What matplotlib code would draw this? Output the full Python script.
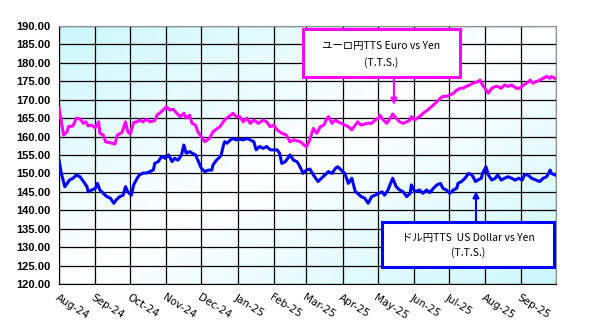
import numpy as np
import pandas as pd
import matplotlib
matplotlib.use("Agg")
import matplotlib.pyplot as plt
import matplotlib.dates as mdates
from matplotlib.patches import Rectangle

# data: days since 2024-08-01, TTS rate (yen)
start = pd.Timestamp("2024-08-01")

eur_day = [0, 2, 4, 7, 8, 12, 15, 18, 21, 23, 25, 28, 31, 34, 35, 38, 40, 44, 48, 50,
           54, 57, 59, 61, 64, 67, 69, 72, 75, 78, 82, 84, 88, 92, 95, 98, 101, 104, 107, 109,
           112, 114, 117, 119, 121, 125, 129, 132, 138, 142, 147, 149, 152, 155, 158, 161, 164, 167, 171, 175,
           178, 181, 184, 187, 191, 195, 198, 201, 207, 212, 215, 218, 221, 224, 227, 229, 231, 234, 237, 239,
           242, 245, 248, 251, 254, 256, 259, 264, 268, 271, 274, 275, 278, 281, 284, 286, 289, 292, 295, 298,
           301, 302, 305, 309, 312, 316, 321, 324, 327, 329, 332, 335, 338, 341, 344, 346, 349, 352, 355, 359,
           361, 363, 365, 368, 371, 374, 376, 379, 382, 385, 388, 392, 395, 398, 401, 404, 406, 409, 412, 415,
           418, 421, 422, 425]
eur_tts = [167.7, 164.0, 160.4, 161.3, 162.7, 162.9, 165.0, 164.8, 163.6, 164.0, 162.9, 163.1, 162.4, 164.0, 160.9, 160.4, 158.6, 158.3, 158.0, 160.4,
           161.1, 164.0, 161.3, 160.7, 163.8, 164.0, 164.5, 164.0, 164.7, 164.0, 164.3, 165.8, 166.8, 168.1, 167.2, 167.4, 166.3, 165.4, 166.3, 165.0,
           165.8, 163.6, 163.1, 161.3, 160.4, 158.6, 159.5, 161.3, 162.7, 164.5, 165.8, 166.3, 165.4, 165.4, 164.0, 165.0, 163.6, 164.5, 163.6, 164.5,
           164.0, 162.7, 163.1, 161.8, 160.9, 160.4, 158.6, 159.1, 158.6, 157.2, 159.1, 162.2, 160.9, 162.7, 163.1, 164.5, 165.4, 163.6, 164.5, 164.0,
           163.6, 163.1, 162.7, 161.8, 163.1, 164.0, 163.1, 163.6, 163.6, 164.5, 165.0, 165.8, 164.5, 163.6, 165.0, 166.1, 165.0, 164.0, 163.6, 164.0,
           164.5, 165.4, 164.5, 165.4, 166.3, 167.2, 168.6, 169.5, 170.4, 170.9, 170.9, 171.3, 171.7, 172.6, 173.1, 173.1, 173.6, 174.0, 174.5, 174.9,
           175.3, 174.0, 173.1, 171.8, 173.1, 173.6, 173.6, 173.1, 174.0, 173.6, 174.0, 173.1, 173.1, 174.0, 174.5, 175.3, 174.5, 174.9, 175.3, 175.8,
           176.3, 175.8, 176.3, 175.8]

usd_day = [0, 2, 5, 7, 9, 12, 15, 18, 21, 24, 25, 28, 31, 33, 35, 38, 41, 44, 47, 49,
           52, 55, 57, 59, 62, 64, 67, 69, 72, 75, 78, 81, 82, 85, 88, 91, 94, 97, 99, 102,
           105, 107, 109, 112, 117, 119, 122, 125, 128, 131, 132, 135, 138, 139, 141, 142, 144, 147, 149, 152,
           155, 158, 161, 164, 167, 169, 172, 175, 178, 181, 184, 187, 189, 191, 194, 197, 198, 201, 204, 205,
           208, 209, 212, 215, 218, 222, 225, 228, 231, 234, 237, 239, 242, 245, 248, 251, 254, 256, 259, 262,
           265, 268, 271, 274, 277, 279, 282, 286, 289, 292, 295, 298, 301, 302, 305, 309, 312, 315, 318, 321,
           324, 327, 329, 332, 335, 338, 341, 342, 345, 348, 351, 354, 357, 359, 362, 363, 366, 368, 371, 374,
           376, 379, 382, 385, 388, 391, 394, 397, 399, 402, 405, 409, 412, 415, 418, 421, 422, 425]
usd_tts = [153.6, 150.0, 146.4, 147.3, 148.2, 148.7, 149.6, 149.1, 147.8, 146.4, 145.0, 145.5, 145.9, 147.3, 145.5, 144.6, 143.7, 143.3, 141.9, 142.8,
           143.7, 144.1, 146.4, 145.0, 144.1, 146.9, 148.7, 149.6, 150.1, 150.1, 150.5, 151.0, 152.7, 153.2, 154.6, 154.1, 155.0, 153.2, 154.1, 153.6,
           155.0, 157.7, 155.5, 155.9, 155.0, 153.6, 151.4, 150.5, 150.9, 150.9, 152.3, 153.6, 154.5, 155.0, 157.7, 158.6, 158.2, 159.1, 159.5, 159.1,
           159.3, 159.1, 159.5, 159.1, 158.6, 156.4, 157.3, 156.8, 157.3, 156.4, 156.4, 156.4, 155.5, 152.7, 153.2, 154.5, 155.0, 153.6, 153.2, 152.7,
           150.9, 150.0, 150.9, 151.2, 149.6, 147.8, 148.7, 149.6, 150.5, 150.0, 151.4, 151.8, 150.9, 150.0, 147.3, 148.7, 145.0, 144.6, 143.7, 143.3,
           141.9, 143.7, 144.1, 144.6, 145.0, 144.1, 145.5, 148.7, 146.4, 145.5, 145.0, 143.7, 144.6, 146.9, 145.0, 145.5, 144.6, 145.5, 144.8, 146.0,
           146.9, 147.3, 146.0, 145.5, 144.6, 145.5, 146.0, 147.3, 147.8, 148.7, 150.0, 149.6, 147.8, 148.2, 148.7, 150.0, 151.8, 149.6, 148.2, 148.7,
           149.6, 148.2, 148.7, 149.1, 148.7, 148.2, 148.7, 148.2, 149.6, 149.6, 148.7, 148.2, 147.8, 148.7, 149.1, 150.9, 150.0, 149.6]

month_ticks = pd.date_range("2024-08-01", "2025-10-01", freq="MS")
month_labels = [d.strftime("%b-%y") for d in month_ticks[:-1]]

eur_dates = start + pd.to_timedelta(eur_day, unit="D")
usd_dates = start + pd.to_timedelta(usd_day, unit="D")

jp = ["Noto Sans CJK JP", "DejaVu Sans"]

fig = plt.figure(figsize=(5.97, 3.29), dpi=100)
ax = fig.add_axes([59 / 597, 45 / 329, 497 / 597, 258 / 329])

# light cyan diagonal gradient behind the plot
gx, gy = np.meshgrid(np.linspace(0, 1, 200), np.linspace(1, 0, 200))
s = np.abs(gx - gy)
c0 = np.array([1.0, 1.0, 1.0])
c1 = np.array([0.80, 0.97, 0.99])
grad = c0 + (c1 - c0) * s[..., None]
ax.imshow(grad, extent=[0, 1, 0, 1], transform=ax.transAxes, zorder=0, aspect="auto")

ax.plot(eur_dates, eur_tts, color="#ff00ff", lw=2.2, zorder=3)
ax.plot(usd_dates, usd_tts, color="#0000ff", lw=2.2, zorder=3)

ax.set_xlim(month_ticks[0], month_ticks[-1])
ax.set_ylim(120, 190)
ax.set_aspect("auto")

ax.set_yticks(np.arange(120, 190.1, 5))
ax.set_yticklabels([f"{v:.2f}" for v in np.arange(120, 190.1, 5)],
                   fontfamily=["Liberation Sans", "DejaVu Sans"],
                   fontweight="bold", fontsize=8)
ax.set_xticks(month_ticks)
ax.set_xticklabels(month_labels + [""], rotation=-32, ha="left", va="top",
                   rotation_mode="anchor", fontsize=7.5)
ax.tick_params(axis="both", length=0)
ax.tick_params(axis="y", pad=6)
ax.tick_params(axis="x", pad=6)
ax.grid(True, color="black", lw=0.9)
for side in ["top", "right"]:
    ax.spines[side].set_color("#909090")
for side in ["left", "bottom"]:
    ax.spines[side].set_color("black")

# euro label box
ax.add_patch(Rectangle((0.491, 0.802), 0.316, 0.186, transform=ax.transAxes,
                       facecolor="white", edgecolor="#ff00ff", lw=2.2, zorder=5))
ax.text(0.649, 0.922, "ユーロ円TTS Euro vs Yen", transform=ax.transAxes, ha="center",
        va="center", fontsize=7.5, family=jp, zorder=6)
ax.text(0.649, 0.860, "(T.T.S.)", transform=ax.transAxes, ha="center",
        va="center", fontsize=7.5, family=jp, zorder=6)
ax.annotate("", xy=(0.674, 0.694), xytext=(0.674, 0.802), xycoords="axes fraction",
            arrowprops=dict(arrowstyle="-|>", color="#ff00ff", lw=1.5,
                            mutation_scale=9, shrinkA=0, shrinkB=0), zorder=6)

# dollar label box
ax.add_patch(Rectangle((0.650, 0.066), 0.346, 0.174, transform=ax.transAxes,
                       facecolor="white", edgecolor="#0000ff", lw=2.2, zorder=5))
ax.text(0.823, 0.178, "ドル円TTS  US Dollar vs Yen", transform=ax.transAxes, ha="center",
        va="center", fontsize=7.5, family=jp, zorder=6)
ax.text(0.823, 0.120, "(T.T.S.)", transform=ax.transAxes, ha="center",
        va="center", fontsize=7.5, family=jp, zorder=6)
ax.annotate("", xy=(0.839, 0.360), xytext=(0.839, 0.240), xycoords="axes fraction",
            arrowprops=dict(arrowstyle="-|>", color="#0000ff", lw=1.5,
                            mutation_scale=9, shrinkA=0, shrinkB=0), zorder=6)

fig.savefig("out.png", dpi=100)
